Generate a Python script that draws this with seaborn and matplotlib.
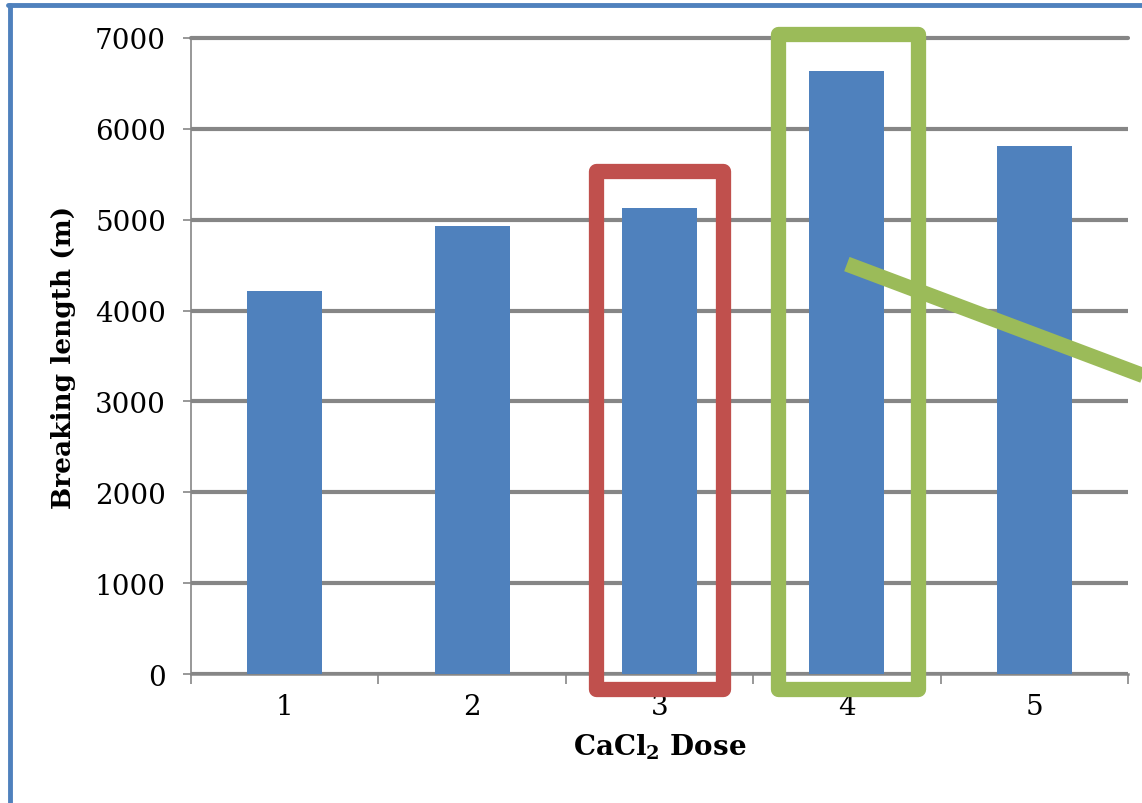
import pandas as pd
import matplotlib
matplotlib.use("Agg")
import matplotlib.pyplot as plt
import matplotlib.patches as mpatches
import matplotlib.lines as mlines
import seaborn as sns

doses = ["1", "2", "3", "4", "5"]
breaking_length = [4220, 4930, 5130, 6640, 5810]
y_ticks = [0, 1000, 2000, 3000, 4000, 5000, 6000, 7000]

BAR_BLUE = "#4F81BD"
GRID_GRAY = "#868686"
RED = "#C0504D"
GREEN = "#9BBB59"

sns.set_style("white")
plt.rcParams["font.family"] = ["DejaVu Serif"]
plt.rcParams["mathtext.fontset"] = "dejavuserif"
plt.rcParams["text.color"] = "black"
plt.rcParams["axes.labelcolor"] = "black"
plt.rcParams["xtick.color"] = "black"
plt.rcParams["ytick.color"] = "black"

data = pd.DataFrame({"dose": doses, "length": breaking_length})

fig = plt.figure(figsize=(11.42, 8.04), dpi=100)
ax = fig.add_axes([0.1673, 0.1604, 0.8204, 0.7911])

sns.barplot(data=data, x="dose", y="length", color=BAR_BLUE, width=0.4,
            saturation=1, linewidth=0, ax=ax, zorder=3)

ax.set_ylim(0, 7000)
ax.set_xlim(-0.5, 4.5)
ax.set_yticks(y_ticks)
ax.yaxis.grid(True, color=GRID_GRAY, linewidth=3, zorder=0)
ax.set_axisbelow(True)
ax.get_ygridlines()[-1].set_clip_on(False)

for side in ["top", "right"]:
    ax.spines[side].set_visible(False)
ax.spines["left"].set_color(GRID_GRAY)
ax.spines["left"].set_linewidth(1.2)
ax.spines["bottom"].set_color(GRID_GRAY)
ax.spines["bottom"].set_linewidth(1.8)

ax.tick_params(axis="y", left=True, length=6, width=1.2, color=GRID_GRAY,
               labelcolor="black", labelsize=20, pad=12)
ax.tick_params(axis="x", which="major", length=0, labelsize=20, pad=14,
               labelcolor="black")
ax.set_xticks([i - 0.5 for i in range(len(doses) + 1)], minor=True)
ax.tick_params(axis="x", which="minor", bottom=True, length=7, width=1.2,
               color=GRID_GRAY, direction="out")

ax.set_xlabel(r"CaCl$_\mathbf{2}$ Dose", fontsize=20, fontweight="bold",
              labelpad=8, color="black")
ax.set_ylabel("Breaking length (m)", fontsize=19, fontweight="bold",
              labelpad=14, color="black")

# highlight boxes around dose 3 and dose 4
red_box = mpatches.Rectangle((2 - 0.34, -165), 0.68, 5536 + 165, fill=False,
                             edgecolor=RED, linewidth=11, joinstyle="round",
                             clip_on=False, zorder=5)
green_box = mpatches.Rectangle((3 - 0.37, -165), 0.75, 7044 + 165, fill=False,
                               edgecolor=GREEN, linewidth=11, joinstyle="round",
                               clip_on=False, zorder=5)
ax.add_patch(red_box)
ax.add_patch(green_box)

# pointer line
pointer = mlines.Line2D([3.0, 4.6], [4512, 3270], color=GREEN, linewidth=11,
                        solid_capstyle="butt", clip_on=False, zorder=6)
ax.add_line(pointer)

# slide frame
fig.add_artist(mlines.Line2D([8 / 1142, 1], [1 - 6 / 804, 1 - 6 / 804],
                             transform=fig.transFigure, color=BAR_BLUE, linewidth=3.5))
fig.add_artist(mlines.Line2D([10 / 1142, 10 / 1142], [0, 1 - 6 / 804],
                             transform=fig.transFigure, color=BAR_BLUE, linewidth=3.5))

fig.savefig("out.png", dpi=100)
